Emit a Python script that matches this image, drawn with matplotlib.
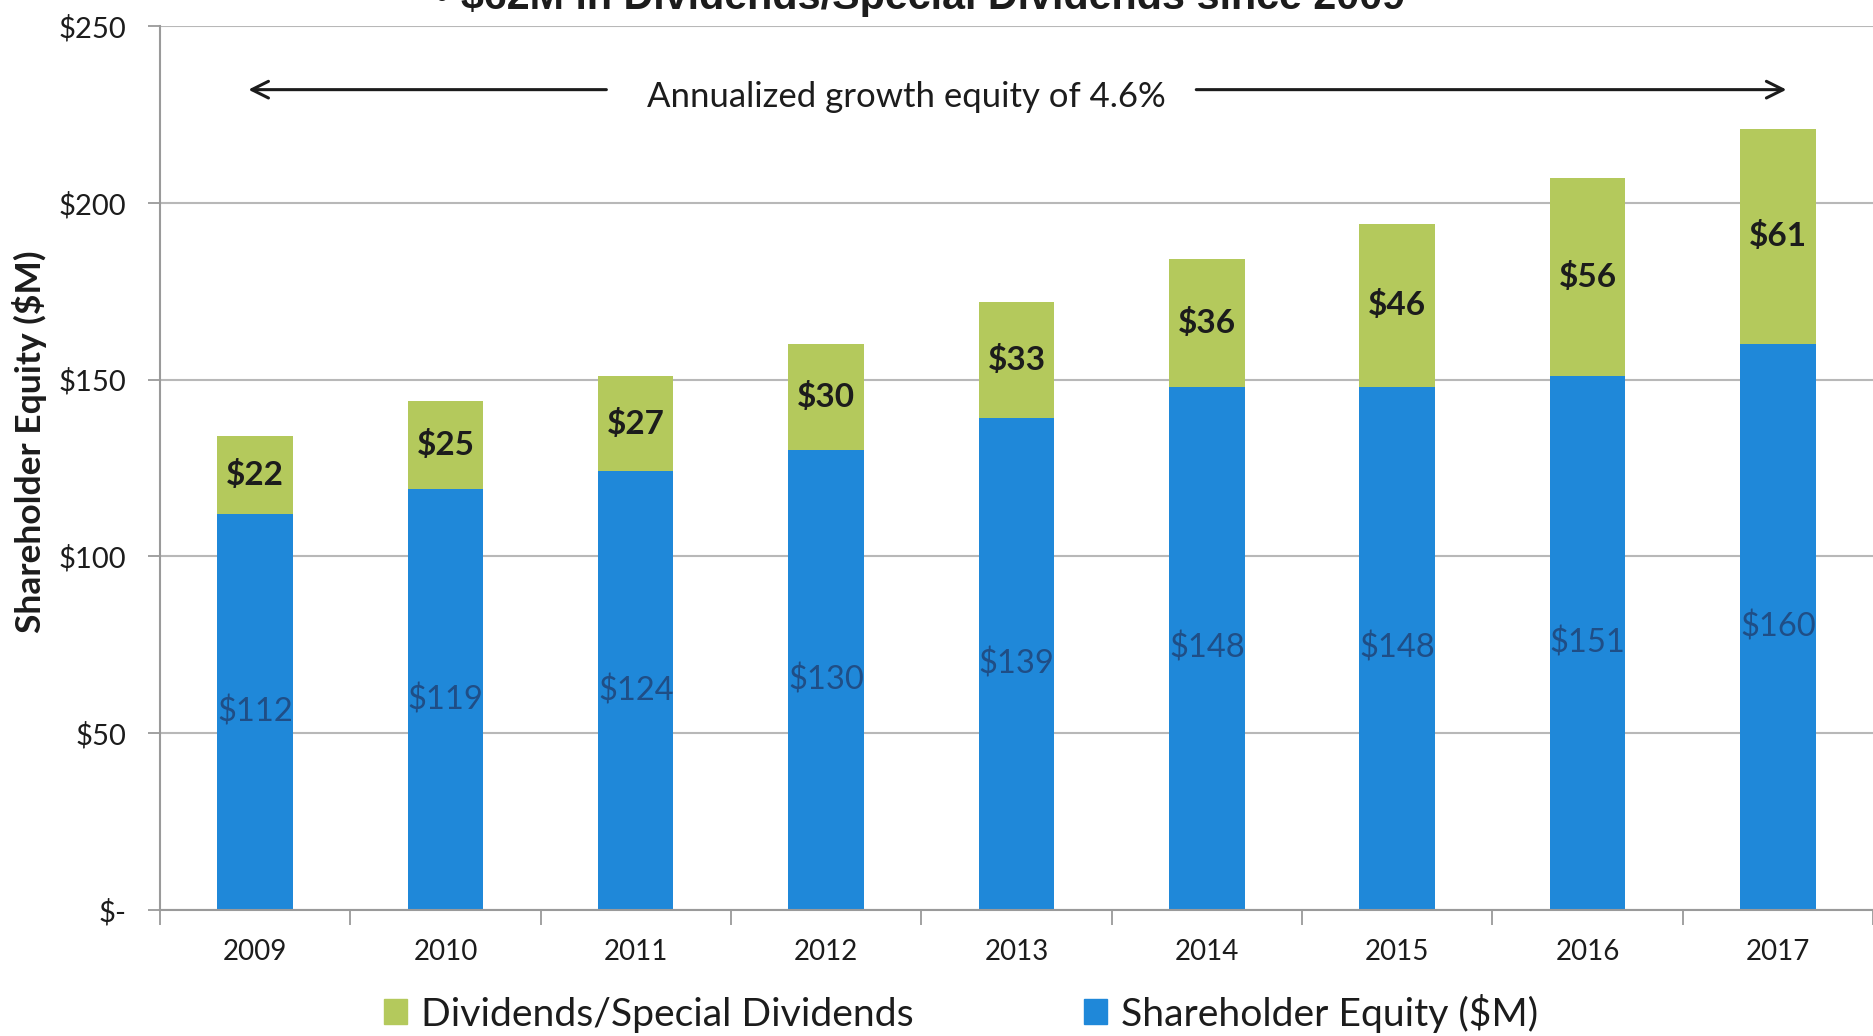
import matplotlib
matplotlib.use("Agg")
import matplotlib.pyplot as plt
from matplotlib.patches import Patch

# data ($M)
years = ["2009", "2010", "2011", "2012", "2013", "2014", "2015", "2016", "2017"]
equity = [112, 119, 124, 130, 139, 148, 148, 151, 160]
dividends = [22, 25, 27, 30, 33, 36, 46, 56, 61]
yticks = [0, 50, 100, 150, 200, 250]
ytick_labels = ["$-", "$50", "$100", "$150", "$200", "$250"]

BLUE = "#1f88d9"
GREEN = "#b4c95c"
BLUE_TXT = "#1f4e86"
DARK = "#1c1c1c"

plt.rcParams["font.family"] = ["Lato", "DejaVu Sans"]

fig = plt.figure(figsize=(18.73, 10.36), dpi=100)
ax = fig.add_axes([0.0854, 0.1217, 0.9146, 0.8532])

x = list(range(len(years)))
ax.bar(x, equity, width=0.396, color=BLUE, zorder=2)
ax.bar(x, dividends, width=0.396, bottom=equity, color=GREEN, zorder=2)

# value labels
for i in x:
    ax.text(i, equity[i] / 2, f"${equity[i]}", ha="center", va="center",
            fontsize=23.5, color=BLUE_TXT, zorder=3)
    ax.text(i, equity[i] + dividends[i] / 2, f"${dividends[i]}", ha="center",
            va="center", fontsize=24, fontweight="bold", color=DARK, zorder=3)

ax.set_xlim(-0.5, 8.435)
ax.set_ylim(0, 250)
ax.set_yticks(yticks)
ax.set_yticklabels(ytick_labels)
ax.set_xticks(x)
ax.set_xticklabels(years)
ax.set_xticks([i - 0.5 for i in range(len(years) + 1)], minor=True)

ax.tick_params(axis="x", which="major", length=0, pad=21, labelsize=20, labelcolor=DARK)
ax.tick_params(axis="x", which="minor", length=11, width=1.3, color="#9a9a9a", direction="out")
ax.tick_params(axis="y", length=9, width=1.3, color="#9a9a9a", pad=15, labelsize=21, labelcolor=DARK)

ax.yaxis.grid(True, color="#b8b8b8", linewidth=1.5, zorder=0)
ax.set_axisbelow(True)
for side in ("top", "right"):
    ax.spines[side].set_visible(False)
for side in ("left", "bottom"):
    ax.spines[side].set_color("#9a9a9a")
    ax.spines[side].set_linewidth(1.5)

ax.set_ylabel("Shareholder Equity ($M)", fontsize=25.5, fontweight="bold", color=DARK)
ax.yaxis.set_label_coords(-0.066, 0.53)

# growth arrow across the top
arrow_y = 232
ax.annotate("", xy=(-0.05, arrow_y), xytext=(1.86, arrow_y),
            arrowprops=dict(arrowstyle="->", lw=2.2, color=DARK, mutation_scale=30))
ax.annotate("", xy=(8.06, arrow_y), xytext=(4.93, arrow_y),
            arrowprops=dict(arrowstyle="->", lw=2.2, color=DARK, mutation_scale=30))
ax.text(3.42, 230, "Annualized growth equity of 4.6%", ha="center", va="center",
        fontsize=25, color=DARK)

# heading cut off at the top edge of the slide
fig.text(0.491, 1 - 9 / 1036, "\u2022 $62M in Dividends/Special Dividends since 2009",
         ha="center", va="baseline", fontsize=29.7, fontweight="bold", color=DARK,
         family=["Liberation Sans", "DejaVu Sans"])

handles = [Patch(color=GREEN, label="Dividends/Special Dividends"),
           Patch(color=BLUE, label="Shareholder Equity ($M)")]
fig.legend(handles=handles, loc="center", bbox_to_anchor=(0.513, 0.022), ncol=2,
           frameon=False, fontsize=28.2, handlelength=0.6, handleheight=0.6,
           handletextpad=0.35, columnspacing=4.35, labelcolor=DARK)

fig.savefig("out.png", dpi=100, facecolor="white")
